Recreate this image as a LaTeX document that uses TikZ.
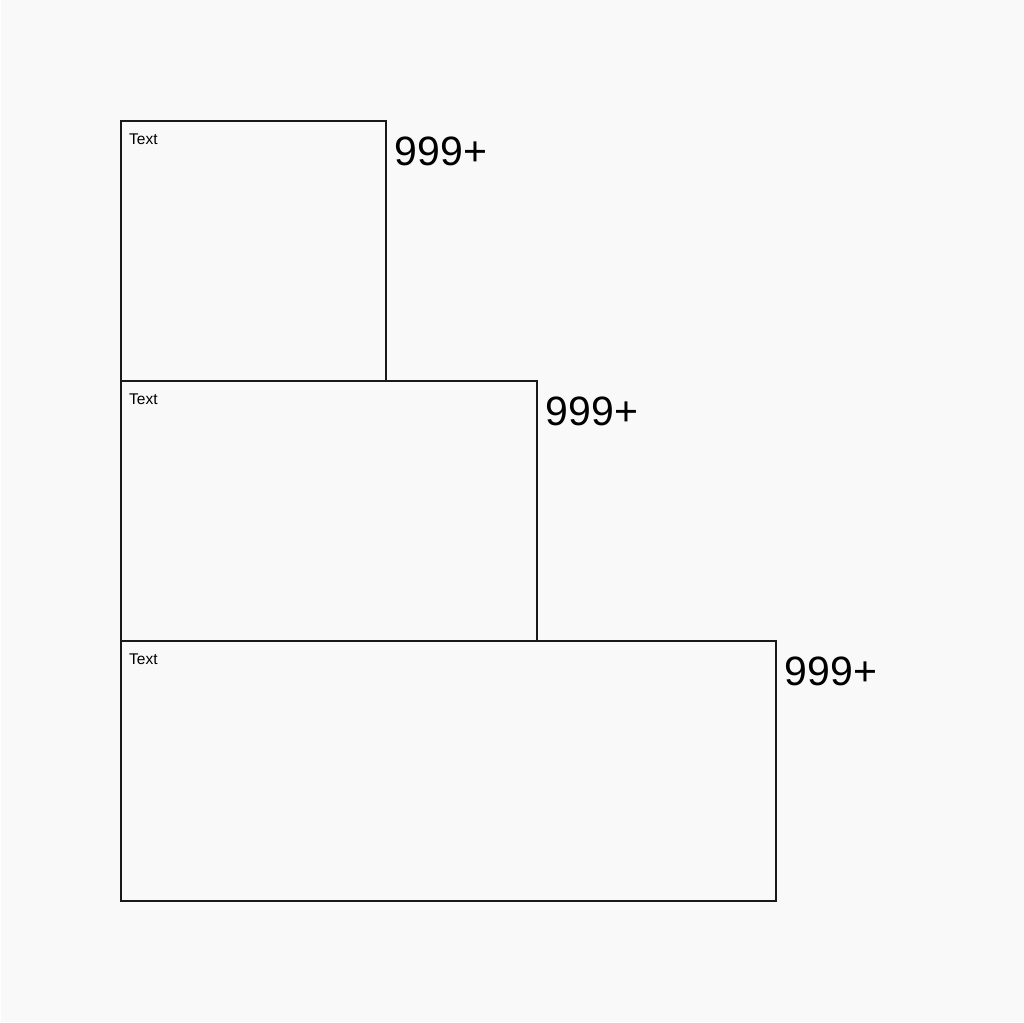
\documentclass[tikz,border=0pt]{standalone}
\usepackage{fontspec}
\setmainfont{Liberation Sans}
\usetikzlibrary{positioning}

\begin{document}
\begin{tikzpicture}[
    x=1pt, y=-1pt,
    panel/.style={rectangle, draw=black!90, line width=1.5pt, fill=none, anchor=north west, inner sep=0pt, outer sep=0pt, minimum height=260pt},
    tag/.style={anchor=base west, inner sep=0pt, font=\fontsize{15.5}{15.5}\selectfont},
    count/.style={anchor=base west, inner sep=0pt, font=\fontsize{41}{41}\selectfont}
]
% Canvas
\fill[white] (0,0) rectangle (1024,1022);
\fill[black!2.5] (1,0) rectangle (1024,1022);
\useasboundingbox (0,0) rectangle (1024,1022);

% Stacked panels
\node[panel, minimum width=265pt] (small) at (121,121) {};
\node[panel, minimum width=416pt] (medium) at (121,381) {};
\node[panel, minimum width=655pt] (large) at (121,641) {};

% Labels
\node[tag] (smalltag) at ([shift={(8pt,-23.5pt)}]small.north west) {Text};
\node[tag] (mediumtag) at ([shift={(8pt,-23.5pt)}]medium.north west) {Text};
\node[tag] (largetag) at ([shift={(8pt,-23.5pt)}]large.north west) {Text};

\node[count] (smallcount) at ([shift={(8.5pt,-44pt)}]small.north east) {999+};
\node[count] (mediumcount) at ([shift={(8.5pt,-44pt)}]medium.north east) {999+};
\node[count] (largecount) at ([shift={(8.5pt,-44pt)}]large.north east) {999+};
\end{tikzpicture}
\end{document}
